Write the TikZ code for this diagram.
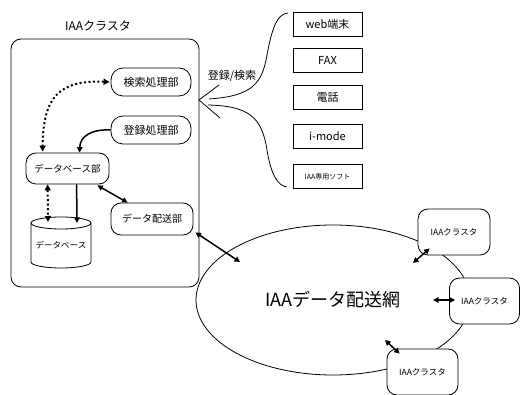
\documentclass[tikz,border=0pt]{standalone}
\usepackage{fontspec}
\setmainfont{Noto Sans CJK JP}
\usetikzlibrary{arrows.meta,shapes.geometric,calc}
\newcommand\myfs[1]{\fontsize{#1}{#1}\selectfont}
\tikzset{
  rbox/.style={draw, rounded corners=10pt, fill=white, line width=0.8pt, inner sep=0pt},
  sbox/.style={draw, fill=white, line width=0.8pt, minimum width=69pt, minimum height=24pt, inner sep=0pt},
  mytip/.tip={Triangle[length=5.5pt,width=5.5pt]},
  arr/.style={line width=1.5pt, -mytip},
  darr/.style={line width=1.5pt, mytip-mytip},
  dotarr/.style={line width=2pt, dash pattern=on 2pt off 2.5pt, {Triangle[length=6pt,width=6pt]}-{Triangle[length=6pt,width=6pt]}},
  thinline/.style={line width=0.8pt}
}
\begin{document}
\begin{tikzpicture}[x=1pt,y=-1pt]
\useasboundingbox (0,0) rectangle (520,395);
% outer cluster
\node[draw, thinline, rounded corners=10pt, minimum width=188pt, minimum height=248pt, inner sep=0pt] (cluster) at (105,163) {};
\node[font=\myfs{12}] (title) at (98,26) {IAAクラスタ};
% inner nodes
\node[rbox, rounded corners=12pt, minimum width=80pt, minimum height=28pt, font=\myfs{11}] (kensaku) at (151,82) {検索処理部};
\node[rbox, rounded corners=12pt, minimum width=80pt, minimum height=28pt, font=\myfs{11}] (toroku) at (151,130) {登録処理部};
\node[rbox, minimum width=83pt, minimum height=31pt, font=\myfs{9.5}] (dbbu) at (67.5,168.5) {データベース部};
\node[rbox, minimum width=82pt, minimum height=32pt, font=\myfs{10}] (haiso) at (152,219) {データ配送部};
% database cylinder
\draw[thinline, fill=white] (31,223) -- (31,262) arc[start angle=180, end angle=360, x radius=30, y radius=-6] -- (91,223);
\draw[thinline] (61,223) ellipse[x radius=30, y radius=6];
\node[font=\myfs{8.5}, inner sep=0pt, minimum width=60pt, minimum height=40pt] (db) at (61,245) {データベース};
% inner connectors
\draw[dotarr] ($(kensaku.west)+(-1,0)$) .. controls (60,80) and (43,96) .. ($(dbbu.north west)+(17,-1)$);
\draw[arr] (toroku.west) .. controls (92,129) and (80,136) .. ($(dbbu.north west)+(54,0)$);
\draw[dotarr] ($(dbbu.south west)+(22,0)$) -- (48,222);
\draw[arr] ($(dbbu.south west)+(51,0)$) -- (77,223);
\draw[darr] ($(dbbu.south east)+(-12,1)$) -- ($(haiso.north west)+(17,0)$);
% network
\node[draw, thinline, ellipse, minimum width=274pt, minimum height=150pt, inner sep=0pt, font=\myfs{18}] (net) at (333,300) {IAAデータ配送網};
\coordinate (n1) at (240,262);
\draw[darr] ($(haiso.south east)+(2,-3)$) -- (n1);
% other clusters
\node[rbox, minimum width=72pt, minimum height=46pt, font=\myfs{8.5}] (c1) at (454,232) {IAAクラスタ};
\node[rbox, minimum width=70pt, minimum height=46pt, font=\myfs{8.5}] (c2) at (484.5,301) {IAAクラスタ};
\node[rbox, minimum width=71pt, minimum height=46pt, font=\myfs{8.5}] (c3) at (422.5,372) {IAAクラスタ};
\coordinate (n2) at (413,263);
\coordinate (n3) at (433,300);
\coordinate (n4) at (385,340);
\draw[darr] ($(c1.south west)+(12,-7)$) -- (n2);
\draw[darr] ($(c2.west)+(6,-1)$) -- (n3);
\draw[darr] (n4) -- ($(c3.north west)+(13,5)$);
% terminals
\node[sbox, font=\myfs{11}] (web) at (327.5,24) {web端末};
\node[sbox, font=\myfs{11}] (fax) at (327.5,60.5) {FAX};
\node[sbox, font=\myfs{11}] (tel) at (327.5,97) {電話};
\node[sbox, font=\myfs{11}] (imode) at (327.5,136.5) {i-mode};
\node[sbox, font=\myfs{7}] (soft) at (327.5,176.5) {IAA専用ソフト};
% brace curves
\coordinate (bt) at (288,13);
\coordinate (bb) at (287,187);
\coordinate (b1) at (209,99);
\coordinate (b2) at (208,105);
\draw[thinline] (b1) .. controls (252,96) and (262,84) .. (267,55) .. controls (273,22) and (279,14) .. (bt);
\draw[thinline] (b2) .. controls (250,106) and (262,118) .. (267,150) .. controls (271,175) and (278,186) .. (bb);
% open arrow
\coordinate (tipA) at (199,100);
\draw[thinline] (219,85) -- (tipA) -- (220,118);
\node[font=\myfs{11}] (label) at (232,76) {登録/検索};
\end{tikzpicture}
\end{document}
